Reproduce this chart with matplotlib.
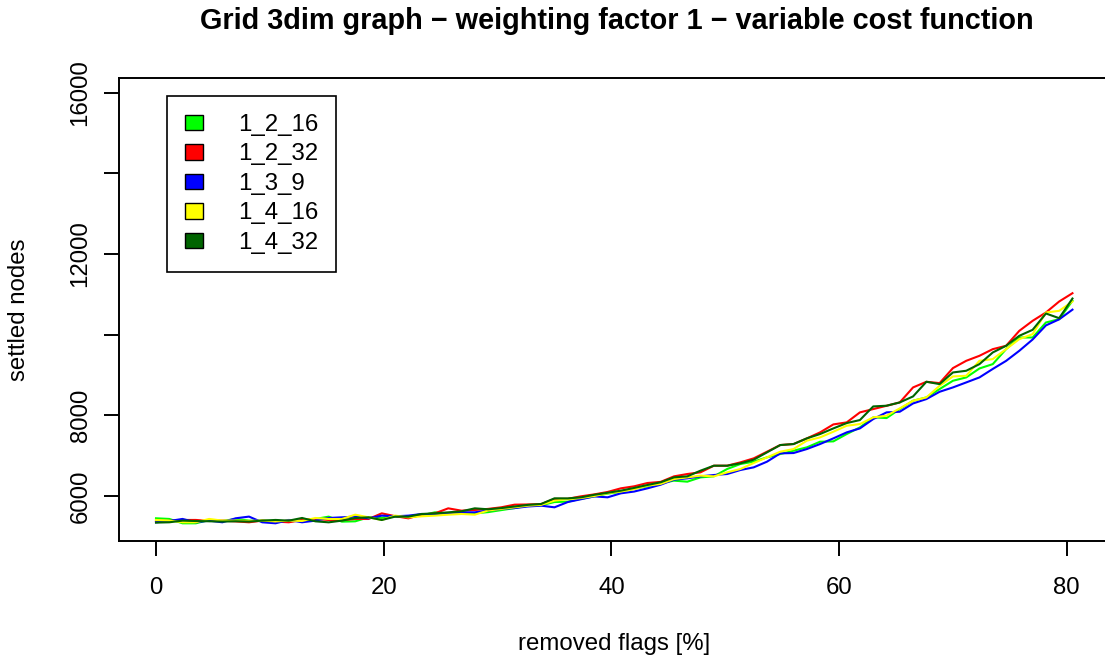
import matplotlib
matplotlib.use("Agg")
import matplotlib.pyplot as plt
from matplotlib.patches import Patch

plt.rcParams['font.family'] = ['Liberation Sans', 'DejaVu Sans']

W, H = 1105, 660
FS = 17.3

# removed flags [%]
flags = [0, 1.17, 2.33, 3.5, 4.67, 5.83, 7, 8.17, 9.33, 10.5,
         11.67, 12.83, 14, 15.17, 16.33, 17.5, 18.67, 19.83, 21, 22.17,
         23.33, 24.5, 25.67, 26.83, 28, 29.17, 30.33, 31.5, 32.67, 33.83,
         35, 36.17, 37.33, 38.5, 39.67, 40.83, 42, 43.17, 44.33, 45.5,
         46.67, 47.83, 49, 50.17, 51.33, 52.5, 53.67, 54.83, 56, 57.17,
         58.33, 59.5, 60.67, 61.83, 63, 64.17, 65.33, 66.5, 67.67, 68.83,
         70, 71.17, 72.33, 73.5, 74.67, 75.83, 77, 78.17, 79.33, 80.5]

# settled nodes per configuration
s_1_2_16 = [5447, 5431, 5323, 5323, 5406, 5380, 5431, 5389, 5389, 5380,
            5370, 5390, 5430, 5488, 5364, 5372, 5471, 5455, 5496, 5470,
            5520, 5595, 5570, 5570, 5570, 5600, 5650, 5700, 5760, 5770,
            5850, 5860, 5930, 5990, 6060, 6100, 6180, 6240, 6320, 6380,
            6355, 6462, 6487, 6669, 6793, 6851, 6958, 7040, 7123, 7206,
            7346, 7354, 7536, 7701, 7949, 7932, 8155, 8362, 8444, 8651,
            8857, 8940, 9162, 9270, 9641, 9930, 9930, 10302, 10384, 10839]
s_1_2_32 = [5390, 5380, 5405, 5406, 5380, 5389, 5370, 5348, 5389, 5365,
            5348, 5406, 5430, 5405, 5400, 5430, 5430, 5570, 5500, 5446,
            5537, 5570, 5694, 5636, 5653, 5680, 5720, 5785, 5790, 5800,
            5926, 5930, 5992, 6040, 6100, 6190, 6240, 6322, 6350, 6487,
            6545, 6587, 6751, 6751, 6834, 6933, 7098, 7263, 7288, 7428,
            7577, 7775, 7825, 8073, 8155, 8237, 8320, 8692, 8832, 8799,
            9171, 9352, 9476, 9641, 9724, 10095, 10343, 10550, 10822, 11028]
s_1_3_9 = [5348, 5380, 5431, 5348, 5389, 5348, 5447, 5489, 5348, 5323,
           5406, 5348, 5389, 5455, 5471, 5488, 5446, 5513, 5496, 5513,
           5554, 5540, 5570, 5595, 5595, 5640, 5680, 5700, 5740, 5760,
           5719, 5850, 5920, 5990, 5967, 6066, 6110, 6190, 6280, 6405,
           6438, 6487, 6520, 6545, 6644, 6710, 6851, 7057, 7065, 7164,
           7288, 7429, 7577, 7676, 7907, 8073, 8089, 8295, 8403, 8584,
           8692, 8816, 8940, 9150, 9350, 9600, 9880, 10230, 10380, 10620]
s_1_4_16 = [5406, 5389, 5348, 5348, 5431, 5389, 5389, 5380, 5389, 5370,
            5389, 5380, 5455, 5430, 5430, 5537, 5471, 5405, 5513, 5471,
            5496, 5513, 5537, 5554, 5537, 5640, 5680, 5720, 5760, 5780,
            5885, 5920, 5950, 6000, 6070, 6110, 6170, 6256, 6300, 6420,
            6462, 6504, 6487, 6586, 6669, 6817, 6958, 7098, 7164, 7371,
            7453, 7594, 7742, 7784, 7949, 7990, 8172, 8362, 8444, 8733,
            8964, 8981, 9352, 9394, 9641, 9889, 10013, 10550, 10591, 10822]
s_1_4_32 = [5340, 5348, 5389, 5380, 5373, 5365, 5373, 5365, 5389, 5406,
            5389, 5455, 5372, 5347, 5389, 5455, 5471, 5405, 5488, 5488,
            5554, 5570, 5595, 5620, 5694, 5670, 5700, 5740, 5780, 5802,
            5942, 5940, 5967, 6030, 6080, 6132, 6200, 6273, 6340, 6462,
            6487, 6628, 6751, 6751, 6809, 6900, 7082, 7263, 7288, 7429,
            7536, 7676, 7808, 7883, 8221, 8238, 8320, 8469, 8832, 8774,
            9063, 9105, 9270, 9559, 9724, 9972, 10120, 10525, 10409, 10896]

names = ["1_2_16", "1_2_32", "1_3_9", "1_4_16", "1_4_32"]
series = [s_1_2_16, s_1_2_32, s_1_3_9, s_1_4_16, s_1_4_32]
colors = ["#00ff00", "#ff0000", "#0000ff", "#ffff00", "#006400"]

xticks = [0, 20, 40, 60, 80]
yticks = [6000, 8000, 10000, 12000, 14000, 16000]
ylabels = ["6000", "8000", "", "12000", "", "16000"]

fig = plt.figure(figsize=(W / 100, H / 100), dpi=100)
# plot region, right edge runs past the image like in the original
ax = fig.add_axes([119 / W, 1 - 541 / H, (1118 - 119) / W, (541 - 78) / H])

for s, c in zip(series, colors):
    ax.plot(flags, s, color=c, lw=1.5)

ax.set_xlim(-3.25, 84.5)
ax.set_ylim(4884, 16364)
ax.set_xticks(xticks)
ax.set_xticklabels([str(t) for t in xticks])
ax.set_yticks(yticks)
ax.set_yticklabels(ylabels, rotation=90, va="center")
ax.tick_params(direction="out", length=10.8, width=1.4, labelsize=FS,
               colors="black")
ax.tick_params(axis="x", pad=15)
ax.tick_params(axis="y", pad=9)
for sp in ax.spines.values():
    sp.set_linewidth(1.4)

handles = [Patch(facecolor=c, edgecolor="black", lw=1) for c in colors]
leg = ax.legend(handles, names, loc="upper left",
                bbox_to_anchor=(167 / W, 1 - 96 / H),
                bbox_transform=fig.transFigure, fontsize=FS,
                frameon=True, fancybox=False, framealpha=1,
                edgecolor="black", borderpad=0.75, borderaxespad=0,
                handlelength=0.75, handleheight=0.6, handletextpad=1.45,
                labelspacing=0.31)
leg.get_frame().set_linewidth(1.2)

fig.text(617 / W, 1 - 21 / H,
         "Grid 3dim graph \u2212 weighting factor 1 \u2212 variable cost function",
         ha="center", va="center", fontsize=FS * 1.2, fontweight="bold")
fig.text(614 / W, 1 - 644 / H, "removed flags [%]", ha="center",
         va="center", fontsize=FS)
fig.text(19 / W, 1 - 310 / H, "settled nodes", ha="center", va="center",
         rotation=90, fontsize=FS)

fig.savefig("out.png", dpi=100)
